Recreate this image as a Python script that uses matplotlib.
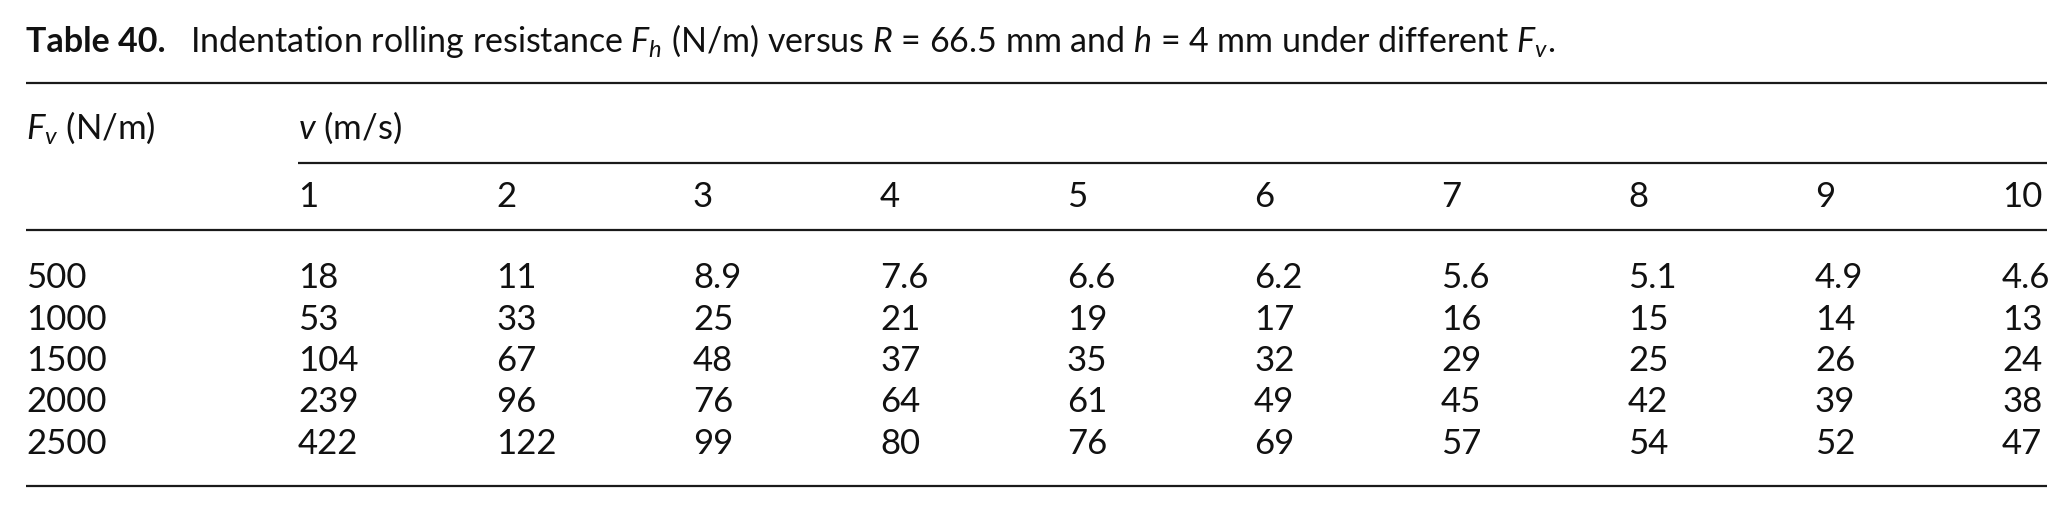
import matplotlib
matplotlib.use("Agg")
import matplotlib.pyplot as plt

plt.rcParams['font.family'] = ['Lato', 'DejaVu Sans']
plt.rcParams['mathtext.fontset'] = 'custom'
plt.rcParams['mathtext.rm'] = 'Lato'
plt.rcParams['mathtext.it'] = 'Lato:italic'
plt.rcParams['mathtext.bf'] = 'Lato:bold'

# Tabela 40 - dane
table_label = 'Table 40.'
caption = r'Indentation rolling resistance $F_h$ (N/m) versus $R$ = 66.5 mm and $h$ = 4 mm under different $F_v$.'
row_header = r'$F_v$ (N/m)'
col_header = r'$v$ (m/s)'
speeds = ['1', '2', '3', '4', '5', '6', '7', '8', '9', '10']
loads = ['500', '1000', '1500', '2000', '2500']
f500 = ['18', '11', '8.9', '7.6', '6.6', '6.2', '5.6', '5.1', '4.9', '4.6']
f1000 = ['53', '33', '25', '21', '19', '17', '16', '15', '14', '13']
f1500 = ['104', '67', '48', '37', '35', '32', '29', '25', '26', '24']
f2000 = ['239', '96', '76', '64', '61', '49', '45', '42', '39', '38']
f2500 = ['422', '122', '99', '80', '76', '69', '57', '54', '52', '47']
rows = [f500, f1000, f1500, f2000, f2500]

# Uklad (w pikselach)
W, H = 2072, 512
x_left, x_right = 26, 2047
col_x = [298, 496, 693, 880, 1067, 1254, 1441, 1628, 1815, 2002]
row_y0, row_step = 288, 41.5
fs_title = 24.5
fs_body = 25

fig = plt.figure(figsize=(W / 100, H / 100), dpi=100)
ax = fig.add_axes([0, 0, 1, 1])
ax.set_xlim(0, W)
ax.set_ylim(H, 0)
ax.axis('off')

# Tytul
t1 = ax.text(x_left, 52, table_label, fontsize=fs_title, fontweight='bold', va='baseline', color='#111')
fig.canvas.draw()
bb = t1.get_window_extent()
ax.text(bb.x1 + 24, 52, caption, fontsize=fs_title, va='baseline', color='#111')

# Linie
line_kw = dict(color='#1a1a1a', linewidth=1.6)
ax.hlines(83, x_left, x_right, **line_kw)
ax.hlines(163, col_x[0], x_right, **line_kw)
ax.hlines(230, x_left, x_right, **line_kw)
ax.hlines(486, x_left, x_right, **line_kw)

# Naglowki
ax.text(x_left, 139, row_header, fontsize=fs_body, va='baseline', color='#111')
ax.text(col_x[0], 139, col_header, fontsize=fs_body, va='baseline', color='#111')
for x, s in zip(col_x, speeds):
    ax.text(x, 207, s, fontsize=fs_body, va='baseline', color='#111')

# Wiersze
for i, (load, vals) in enumerate(zip(loads, rows)):
    y = row_y0 + i * row_step
    ax.text(x_left, y, load, fontsize=fs_body, va='baseline', color='#111')
    for x, v in zip(col_x, vals):
        ax.text(x, y, v, fontsize=fs_body, va='baseline', color='#111')

fig.savefig('out.png', dpi=100)
